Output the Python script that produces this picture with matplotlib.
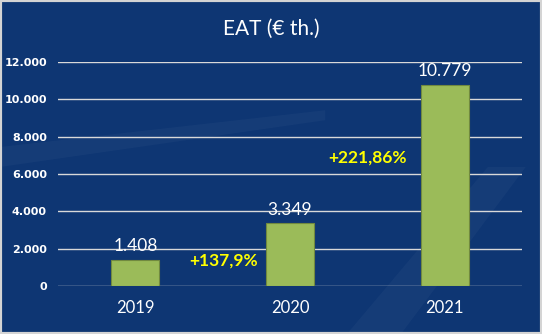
import matplotlib
matplotlib.use("Agg")
import matplotlib.pyplot as plt
from matplotlib.patches import Rectangle, Polygon

years = ["2019", "2020", "2021"]
eat = [1408, 3349, 10779]
value_labels = ["1.408", "3.349", "10.779"]
growth_labels = ["+137,9%", "+221,86%"]
growth_pos = [(0.57, 1390), (1.50, 6900)]
yticks = [0, 2000, 4000, 6000, 8000, 10000, 12000]
ytick_labels = ["0", "2.000", "4.000", "6.000", "8.000", "10.000", "12.000"]

bg = "#0e3673"
fig = plt.figure(figsize=(5.42, 3.34), dpi=100, facecolor=bg)

# backdrop layer with faint lighter shapes, kept behind the chart
back = fig.add_axes([0, 0, 1, 1], zorder=-1)
back.set_xlim(0, 1)
back.set_ylim(0, 1)
back.axis("off")
for pts, a in [
    ([(0.0, 0.50), (0.60, 0.64), (0.60, 0.67), (0.0, 0.56)], 0.03),
    ([(0.64, 0.0), (0.74, 0.0), (0.97, 0.50), (0.90, 0.50)], 0.03),
]:
    back.add_patch(Polygon(pts, closed=True, facecolor="white", alpha=a,
                           edgecolor="none"))

fig.patches.append(Rectangle((0, 0), 1, 1, transform=fig.transFigure, fill=False,
                             edgecolor="#d4d4d4", linewidth=3, zorder=10))

ax = fig.add_axes([58 / 542, 1 - 286 / 334, 464 / 542, (286 - 62) / 334])
ax.set_facecolor("none")
x = list(range(len(years)))
ax.bar(x, eat, width=0.31, color="#9bbb59", edgecolor="#71893f", linewidth=0.8, zorder=3)
ax.set_xlim(-0.5, 2.5)
ax.set_ylim(0, 12000)
ax.set_yticks(yticks)
ax.set_yticklabels(ytick_labels, fontsize=8, fontweight="bold", color="white",
                   family="DejaVu Sans")
ax.set_xticks(x)
ax.set_xticklabels(years, fontsize=12, color="white", family="Lato")
ax.tick_params(axis="y", length=0, pad=8)
ax.tick_params(axis="x", length=0, pad=10)
ax.grid(axis="y", color="#d9d9d9", linewidth=1, zorder=1)
for s in ax.spines.values():
    s.set_visible(False)

for xi, v, lab in zip(x, eat, value_labels):
    ax.annotate(lab, (xi, v), xytext=(0, 4), textcoords="offset points",
                ha="center", va="bottom", fontsize=12.5, color="white", family="Lato")

for (gx, gy), lab in zip(growth_pos, growth_labels):
    ax.text(gx, gy, lab, ha="center", va="center", fontsize=12.5, fontweight="bold",
            color="#ffff00", family="Lato")

fig.text(0.5, 1 - 29 / 334, "EAT (€ th.)", ha="center", va="center",
         fontsize=15, color="white", family="Lato")

fig.savefig("out.png", dpi=100, facecolor=bg)
